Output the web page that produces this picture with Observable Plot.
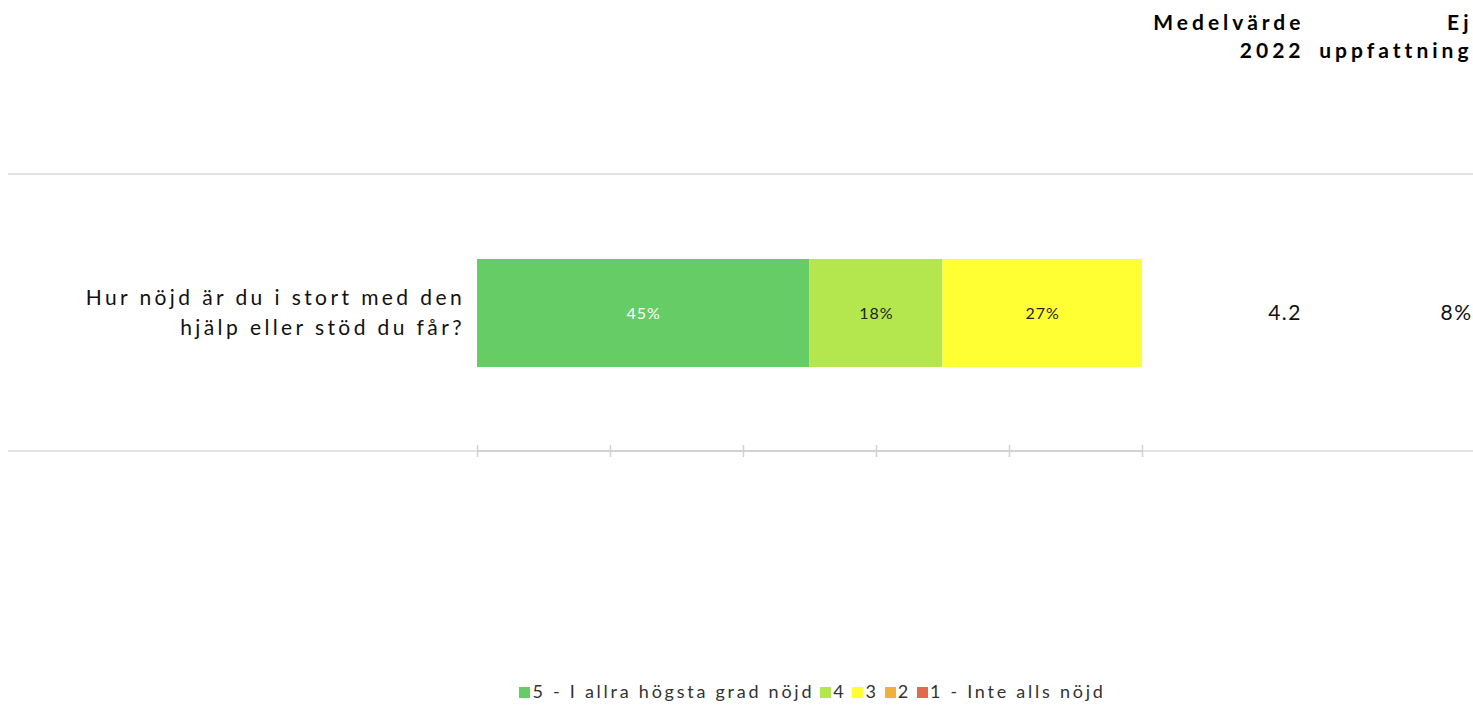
<!DOCTYPE html>
<html>
<head>
<meta charset="utf-8">
<script src="https://cdn.jsdelivr.net/npm/d3@7"></script>
<script src="https://cdn.jsdelivr.net/npm/@observablehq/plot@0.6"></script>
<style>
  body { margin: 0; background: #fff; font-family: Lato, "DejaVu Sans", sans-serif; }
  #legend { margin-top: 8px; margin-left: 483px; width: 665px; text-align: center; font-size: 18px; letter-spacing: 2.75px; color: #333; white-space: nowrap; }
  #legend span.sw { display: inline-block; width: 11px; height: 11px; margin-right: 2px; vertical-align: 0px; }
  #legend span.it { margin-right: 6px; }
</style>
</head>
<body>
<div id="chart"></div>
<div id="legend"></div>
<script>
const question = "Hur nöjd är du i stort med den hjälp eller stöd du får?";
const categories = ["5 - I allra högsta grad nöjd", "4", "3", "2", "1 - Inte alls nöjd"];
const colors = ["#66cc66", "#b4e64e", "#ffff33", "#f0b03c", "#e06a50"];
const values = [45, 18, 27, 0, 0];
const mean2022 = "4.2";
const noOpinion = "8%";
const xTicks = [0, 0.2, 0.4, 0.6, 0.8, 1];

const data = categories.map((c, i) => ({q: question, cat: c, value: values[i]}));
const labelled = data.filter(d => d.value > 0);

const W = 1473, H = 672;
const gridMark = (index, scales, values, dims) => {
  const g = d3.create("svg:g");
  const top = dims.marginTop, bot = dims.height - dims.marginBottom;
  for (const y of [top, bot]) {
    g.append("line").attr("x1", 8).attr("x2", dims.width).attr("y1", y).attr("y2", y)
      .attr("stroke", "#e4e4e4").attr("stroke-width", 2);
  }
  g.append("line").attr("x1", dims.marginLeft).attr("x2", dims.width - dims.marginRight)
    .attr("y1", bot).attr("y2", bot).attr("stroke", "#d2d2d2").attr("stroke-width", 2);
  return g.node();
};

const chart = Plot.plot({
  width: W, height: H,
  marginLeft: 477, marginRight: 331, marginTop: 174, marginBottom: H - 451,
  style: {fontFamily: "Lato, 'DejaVu Sans', sans-serif", background: "#fff"},
  x: {domain: [0, 1], axis: null, label: null},
  y: {domain: [question], padding: 0.44, axis: null, label: null},
  color: {domain: categories, range: colors},
  marks: [
    gridMark,
    Plot.axisX({ticks: xTicks, tickFormat: () => "", tickSize: 12, dy: -6, stroke: "#d2d2d2", strokeWidth: 1.5, label: null}),
    Plot.barX(data, Plot.stackX({offset: "normalize", x: "value", y: "q", fill: "cat", order: categories})),
    Plot.text(labelled, Plot.stackX({offset: "normalize", x: "value", y: "q", order: categories,
      text: d => d.value + "%", fill: d => d.cat === categories[0] ? "white" : "#222",
      fontSize: 16})),
    Plot.axisY({tickSize: 0, tickPadding: 12.5, dy: -3, fontSize: 21, lineHeight: 1.4, fill: "#111", label: null,
      tickFormat: d => d.replace(" hjälp", "\nhjälp")}),
    Plot.text([mean2022], {frameAnchor: "right", dx: 159.5, textAnchor: "end", fontSize: 21, fill: "#111"}),
    Plot.text([noOpinion], {frameAnchor: "right", dx: 330, textAnchor: "end", fontSize: 21, fill: "#111"}),
    Plot.text(["Medelvärde\n2022"], {frameAnchor: "top-right", dx: 162, dy: -165, textAnchor: "end", lineAnchor: "top",
      fontSize: 21, fontWeight: "bold", lineHeight: 1.35, fill: "#000"}),
    Plot.text(["Ej\nuppfattning"], {frameAnchor: "top-right", dx: 330, dy: -165, textAnchor: "end", lineAnchor: "top",
      fontSize: 21, fontWeight: "bold", lineHeight: 1.35, fill: "#000"})
  ]
});
// letter spacing to approximate the wide geometric original font
chart.querySelectorAll('g[aria-label="y-axis tick label"]').forEach(g => g.setAttribute("letter-spacing", "3.4px"));
chart.querySelectorAll('g[aria-label="text"]').forEach(g => {
  const fw = g.getAttribute("font-weight");
  const fs = g.getAttribute("font-size");
  if (fw === "bold") g.setAttribute("letter-spacing", "4px");
  else if (fs === "16") g.setAttribute("letter-spacing", "1px");
  else g.setAttribute("letter-spacing", "1.5px");
});
document.getElementById("chart").append(chart);

const legend = document.getElementById("legend");
categories.forEach((c, i) => {
  const item = document.createElement("span");
  item.className = "it";
  const sw = document.createElement("span");
  sw.className = "sw";
  sw.style.background = colors[i];
  item.append(sw, document.createTextNode(c));
  legend.append(item);
});
</script>
</body>
</html>
